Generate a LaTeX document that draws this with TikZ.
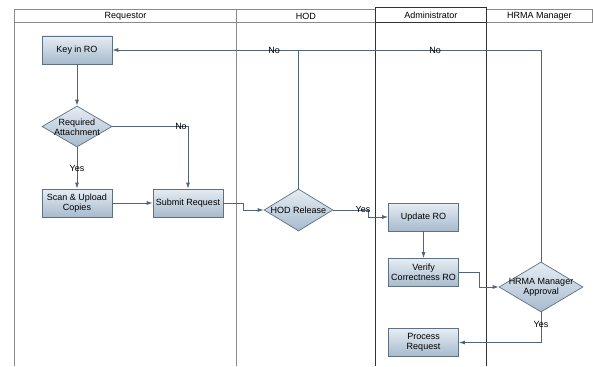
\documentclass[tikz,border=0pt]{standalone}
\usepackage{fontspec}
\setmainfont{Liberation Sans}
\usetikzlibrary{shapes.geometric,arrows.meta}
\definecolor{lanegray}{HTML}{8A8A8A}
\definecolor{flow}{HTML}{506579}
\definecolor{boxtop}{HTML}{E6EDF4}
\definecolor{boxbot}{HTML}{A7BACD}
\definecolor{boxline}{HTML}{5C7186}
\tikzset{
  procbox/.style={draw=boxline, line width=0.7pt, top color=boxtop, bottom color=boxbot,
    minimum width=70pt, minimum height=28pt, inner sep=1pt, align=center,
    font=\fontsize{9}{10}\selectfont},
  decision/.style={diamond, draw=boxline, line width=0.7pt, top color=boxtop, bottom color=boxbot,
    inner sep=0pt},
  txt/.style={font=\fontsize{9}{10}\selectfont, align=center, inner sep=0pt},
  flowline/.style={draw=flow, line width=0.8pt},
  flowarrow/.style={flowline, -{Latex[length=6pt,width=4pt]}},
  lane/.style={draw=lanegray, line width=0.8pt},
  lanehead/.style={draw=lanegray, line width=0.8pt, fill=white}
}
\begin{document}
\begin{tikzpicture}[x=1pt,y=-1pt]
\useasboundingbox (0,0) rectangle (593,366);
\fill[white] (0,0) rectangle (593,366);

% swimlanes
\draw[lane] (14.7,9.3) -- (14.7,366);
\draw[lane] (236.3,9.3) -- (236.3,366);
\draw[lane] (486.5,9.3) -- (486.5,366);
\draw[lanehead] (14.7,9.3) rectangle (236.3,22.7);
\draw[lanehead] (236.3,9.3) rectangle (375.3,22.7);
\draw[lanehead] (486.5,9.3) rectangle (592.3,22.7);
\draw[draw=black!80, line width=0.8pt] (375.3,366) -- (375.3,7.7) -- (486.5,7.7) -- (486.5,366);
\draw[draw=black!80, line width=0.8pt] (375.3,22.7) -- (486.5,22.7);
\node[txt] (hreq) at (125.5,16) {Requestor};
\node[txt] (hhod) at (305.8,16) {HOD};
\node[txt] (hadm) at (430.9,15.5) {Administrator};
\node[txt] (hhrm) at (539.4,16) {HRMA Manager};

% process steps
\node[procbox] (key) at (77,50) {Key in RO};
\node[decision, minimum width=70pt, minimum height=41pt] (req) at (77,126.5) {};
\node[txt] (reqt) at (77,127) {Required\\Attachment};
\node[procbox] (scan) at (77,203) {Scan \& Upload\\Copies};
\node[procbox] (sub) at (188,203) {Submit Request};
\node[decision, minimum width=69pt, minimum height=42pt] (hod) at (298.5,210) {};
\node[txt] (hodt) at (298.5,210) {HOD Release};
\node[procbox] (upd) at (423.5,217) {Update RO};
\node[procbox] (ver) at (423.5,272.5) {Verify\\Correctness RO};
\node[decision, minimum width=84pt, minimum height=50pt] (hrm) at (541,287) {};
\node[txt] (hrmt) at (541,287) {HRMA Manager\\Approval};
\node[procbox] (pro) at (423.5,342.5) {Process\\Request};

% connectors
\draw[flowarrow] (key) -- (req);
\draw[flowarrow] (req) -- (scan);
\node[txt] (yes1) at (77,168) {Yes};
\draw[flowarrow] (req.east) -- (188,126.5) -- (sub.north);
\node[txt] (no1) at (181,126.5) {No};
\draw[flowarrow] (scan) -- (sub);
\draw[flowarrow] (sub.east) -- (243,203) |- (hod.west);
\draw[flowarrow] (hod.east) -- (368,210) |- (upd.west);
\node[txt] (yes2) at (363,209.5) {Yes};
\draw[flowarrow] (upd) -- (ver);
\draw[flowarrow] (ver.east) -- (479,272.5) |- (hrm.west);
\draw[flowarrow] (hrm.south) |- (pro.east);
\node[txt] (yes3) at (541,324) {Yes};
\draw[flowarrow] (hrm.north) |- (key.east);
\draw[flowline] (hod.north) -- (hod.north |- key.east);
\node[txt] (no2) at (274,50) {No};
\node[txt] (no3) at (435,50) {No};
\end{tikzpicture}
\end{document}
